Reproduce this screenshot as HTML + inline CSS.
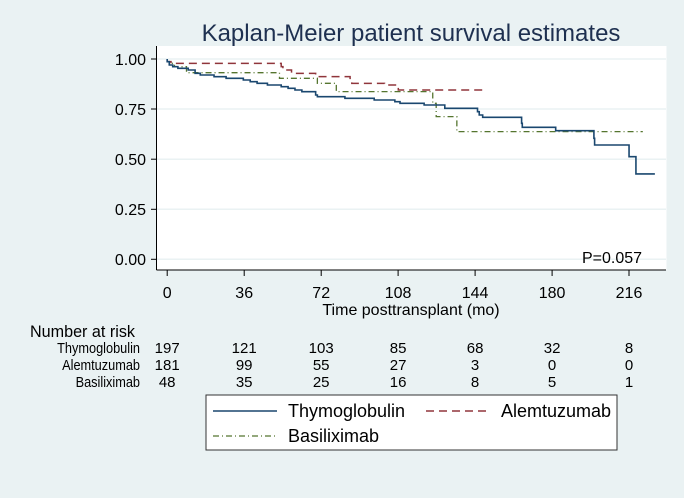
<!DOCTYPE html>
<html><head><meta charset="utf-8"><style>
body{margin:0;background:#eaf2f3;}
svg{display:block;font-family:"Liberation Sans",Arial,sans-serif;}
</style></head><body>
<svg width="684" height="498" viewBox="0 0 684 498">
<rect width="684" height="498" fill="#eaf2f3"/>
<rect x="156.5" y="46" width="510" height="224" fill="#fff"/>
<g stroke="#eaf2f3" stroke-width="1.5">
<line x1="157" x2="666" y1="59" y2="59"/><line x1="157" x2="666" y1="109" y2="109"/>
<line x1="157" x2="666" y1="159.2" y2="159.2"/><line x1="157" x2="666" y1="209.3" y2="209.3"/>
<line x1="157" x2="666" y1="259.3" y2="259.3"/>
</g>
<text x="411" y="41" font-size="24" text-anchor="middle" fill="#1e3050">Kaplan-Meier patient survival estimates</text>
<g stroke="#000" stroke-width="1">
<line x1="156.5" y1="46" x2="156.5" y2="270"/>
<line x1="156.5" y1="270" x2="666" y2="270"/>
<line x1="151" x2="156.5" y1="59" y2="59"/><line x1="151" x2="156.5" y1="109" y2="109"/>
<line x1="151" x2="156.5" y1="159.2" y2="159.2"/><line x1="151" x2="156.5" y1="209.3" y2="209.3"/>
<line x1="151" x2="156.5" y1="259.3" y2="259.3"/>
<line x1="167.2" x2="167.2" y1="270" y2="276"/><line x1="244.2" x2="244.2" y1="270" y2="276"/>
<line x1="321.2" x2="321.2" y1="270" y2="276"/><line x1="398.1" x2="398.1" y1="270" y2="276"/>
<line x1="475.1" x2="475.1" y1="270" y2="276"/><line x1="552.1" x2="552.1" y1="270" y2="276"/>
<line x1="629" x2="629" y1="270" y2="276"/>
</g>
<g font-size="16" text-anchor="end" fill="#000">
<text x="146" y="65">1.00</text><text x="146" y="115">0.75</text><text x="146" y="165">0.50</text>
<text x="146" y="215">0.25</text><text x="146" y="265">0.00</text>
</g>
<g font-size="16" text-anchor="middle" fill="#000">
<text x="167.2" y="298">0</text><text x="244.2" y="298">36</text><text x="321.2" y="298">72</text>
<text x="398.1" y="298">108</text><text x="475.1" y="298">144</text><text x="552.1" y="298">180</text><text x="629" y="298">216</text>
<text x="411" y="315">Time posttransplant (mo)</text>
</g>
<text x="582" y="263" font-size="16">P=0.057</text>
<g transform="translate(140,40) scale(0.3444,0.3333)" fill="none">
<path vector-effect="non-scaling-stroke" stroke="#55752f" stroke-width="1.3" stroke-dasharray="6 3 1 3" d="M79,57 V65 H90 V70 H100 V80 H135 V98 H405 V115 H515 V130 H570 V155 H850 V190 H860 V230 H920 V275 H1460"/>
<path vector-effect="non-scaling-stroke" stroke="#90353b" stroke-width="1.5" stroke-dasharray="8 5" d="M79,57 V65 H90 V70 H410 V80 H415 V90 H440 V100 H510 V110 H610 V115 H615 V130 H710 V135 H750 V150 H1000"/>
<path vector-effect="non-scaling-stroke" stroke="#1a476f" stroke-width="1.6" d="M79,57 V65 H85 V75 H95 V80 H110 V85 H140 V90 H160 V100 H175 V105 H215 V110 H250 V115 H300 V120 H320 V125 H340 V130 H370 V135 H410 V140 H430 V145 H450 V150 H470 V155 H510 V165 H515 V170 H595 V175 H680 V180 H740 V185 H755 V190 H825 V195 H885 V205 H980 V215 H985 V225 H995 V232 H1108 V250 H1110 V262 H1120 H1207 V272 H1318 V295 H1320 V315 H1325 H1420 V350 H1440 V402 H1495"/>
</g>
<text x="30" y="337" font-size="17" transform="translate(30,0) scale(0.95,1) translate(-30,0)">Number at risk</text>
<g font-size="15" fill="#000">
<g text-anchor="end" transform="translate(140,0) scale(0.85,1) translate(-140,0)"><text x="140" y="353">Thymoglobulin</text><text x="140" y="370">Alemtuzumab</text><text x="140" y="387">Basiliximab</text></g>
<g text-anchor="middle">
<text x="167.2" y="353">197</text><text x="244.2" y="353">121</text><text x="321.2" y="353">103</text><text x="398.1" y="353">85</text><text x="475.1" y="353">68</text><text x="552.1" y="353">32</text><text x="629" y="353">8</text>
<text x="167.2" y="370">181</text><text x="244.2" y="370">99</text><text x="321.2" y="370">55</text><text x="398.1" y="370">27</text><text x="475.1" y="370">3</text><text x="552.1" y="370">0</text><text x="629" y="370">0</text>
<text x="167.2" y="387">48</text><text x="244.2" y="387">35</text><text x="321.2" y="387">25</text><text x="398.1" y="387">16</text><text x="475.1" y="387">8</text><text x="552.1" y="387">5</text><text x="629" y="387">1</text>
</g></g>
<rect x="206" y="395" width="411" height="55" fill="#fff" stroke="#333" stroke-width="1"/>
<line x1="213" x2="277" y1="411" y2="411" stroke="#1a476f" stroke-width="1.6"/>
<line x1="426" x2="491" y1="411" y2="411" stroke="#90353b" stroke-width="1.5" stroke-dasharray="8 5"/>
<line x1="213" x2="277" y1="436" y2="436" stroke="#55752f" stroke-width="1.3" stroke-dasharray="6 3 1 3"/>
<g font-size="18" fill="#000">
<text x="288" y="417">Thymoglobulin</text>
<text x="501" y="417">Alemtuzumab</text>
<text x="288" y="442">Basiliximab</text>
</g>
</svg>
</body></html>
